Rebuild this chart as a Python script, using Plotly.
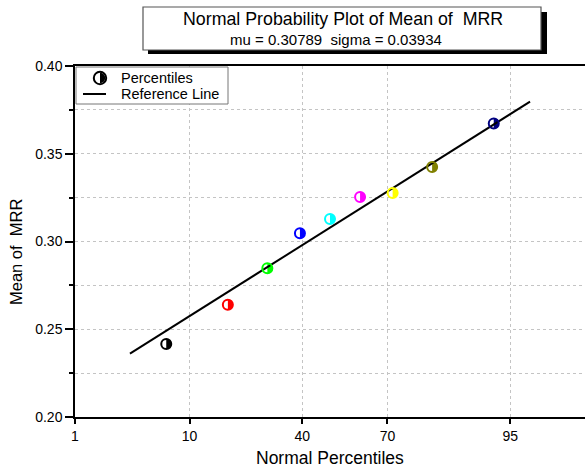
import plotly.graph_objects as go
from statistics import NormalDist

# ---- data ----
percentiles = [6.76, 17.57, 28.38, 39.19, 50.0, 60.81, 71.62, 82.43, 93.24]
mrr_means = [0.2416, 0.2640, 0.2847, 0.3047, 0.3128, 0.3254, 0.3276, 0.3425, 0.3673]
point_colors = ["#000000", "#FF0000", "#00FF00", "#0000FF", "#00FFFF",
                "#FF00FF", "#FFFF00", "#808000", "#000080"]
mu = 0.30789
sigma = 0.03934
ref_line_pct = [3.4, 96.6]
x_tick_pct = [1, 10, 40, 70, 95]
x_tick_labels = ["1", "10", "40", "70", "95"]
y_ticks = [0.20, 0.25, 0.30, 0.35, 0.40]

nd = NormalDist()
def probit(p):
    return nd.inv_cdf(p / 100.0)

xz = [probit(p) for p in percentiles]
line_z = [probit(p) for p in ref_line_pct]
line_y = [mu + sigma * z for z in line_z]

W, H = 585, 468
ML, MR, MT, MB = 75, 0, 66, 51
PW, PH = W - ML - MR, H - MT - MB

def px(xp):
    return (xp - ML) / PW

def py(yp):
    return (H - MB - yp) / PH

FONT = "Arial, Liberation Sans, sans-serif"

fig = go.Figure()

# reference line
fig.add_trace(go.Scatter(x=line_z, y=line_y, mode="lines",
                         line=dict(color="black", width=2), showlegend=False,
                         hoverinfo="skip"))
# percentile markers (ring)
fig.add_trace(go.Scatter(x=xz, y=mrr_means, mode="markers",
                         marker=dict(size=10, color="rgba(0,0,0,0)",
                                     line=dict(color=point_colors, width=2)),
                         showlegend=False))

R = 5.2
k = 0.5523 * R
half_path = (f"M0,{-R} C{k},{-R} {R},{-k} {R},0 C{R},{k} {k},{R} 0,{R} Z")

shapes = []
for x, y, c in zip(xz, mrr_means, point_colors):
    shapes.append(dict(type="circle", xref="x", yref="y", xsizemode="pixel",
                       ysizemode="pixel", xanchor=x, yanchor=y,
                       x0=-R, x1=R, y0=-R, y1=R, fillcolor="white",
                       line=dict(width=0), layer="between"))
    shapes.append(dict(type="path", xref="x", yref="y", xsizemode="pixel",
                       ysizemode="pixel", xanchor=x, yanchor=y, path=half_path,
                       fillcolor=c, line=dict(width=0), layer="between"))

# title box with shadow
shapes.append(dict(type="rect", xref="paper", yref="paper",
                   x0=px(148), x1=px(547), y0=py(54), y1=py(12),
                   fillcolor="black", line=dict(width=0), layer="above"))
shapes.append(dict(type="rect", xref="paper", yref="paper",
                   x0=px(143), x1=px(541), y0=py(50), y1=py(7),
                   fillcolor="white", line=dict(color="#555555", width=1.2),
                   layer="above"))
# legend box
shapes.append(dict(type="rect", xref="paper", yref="paper",
                   x0=px(76), x1=px(228), y0=py(104), y1=py(67),
                   fillcolor="white", line=dict(color="#777777", width=1),
                   layer="above"))
# legend marker
shapes.append(dict(type="circle", xref="paper", yref="paper", xsizemode="pixel",
                   ysizemode="pixel", xanchor=px(100), yanchor=py(78),
                   x0=-R - 1, x1=R + 1, y0=-R - 1, y1=R + 1, fillcolor="white",
                   line=dict(color="black", width=2), layer="above"))
shapes.append(dict(type="path", xref="paper", yref="paper", xsizemode="pixel",
                   ysizemode="pixel", xanchor=px(100), yanchor=py(78),
                   path=half_path, fillcolor="black", line=dict(width=0),
                   layer="above"))
shapes.append(dict(type="line", xref="paper", yref="paper",
                   x0=px(83), x1=px(106), y0=py(94), y1=py(94),
                   line=dict(color="black", width=2), layer="above"))

annotations = [
    dict(text="Normal Probability Plot of Mean of&nbsp; MRR", xref="paper", yref="paper",
         x=px(343), y=py(19), showarrow=False, xanchor="center", yanchor="middle",
         font=dict(family=FONT, size=17.8, color="black")),
    dict(text="mu = 0.30789&nbsp; sigma = 0.03934", xref="paper", yref="paper",
         x=px(336), y=py(40), showarrow=False, xanchor="center", yanchor="middle",
         font=dict(family=FONT, size=15, color="black")),
    dict(text="Percentiles", xref="paper", yref="paper", x=px(119), y=py(78),
         showarrow=False, xanchor="left", yanchor="middle",
         font=dict(family=FONT, size=14.5, color="black")),
    dict(text="Reference Line", xref="paper", yref="paper", x=px(119), y=py(94),
         showarrow=False, xanchor="left", yanchor="middle",
         font=dict(family=FONT, size=14.5, color="black")),
    dict(text="Normal Percentiles", xref="paper", yref="paper", x=px(330), y=py(458),
         showarrow=False, xanchor="center", yanchor="middle",
         font=dict(family=FONT, size=17.5, color="black")),
    dict(text="Mean of&nbsp; MRR", xref="paper", yref="paper", x=px(16), y=py(252),
         showarrow=False, xanchor="center", yanchor="middle", textangle=-90,
         font=dict(family=FONT, size=16.5, color="black")),
]

grid = dict(gridcolor="#c4c4c4", gridwidth=1, griddash="3px,3px")

fig.update_layout(
    width=W, height=H,
    margin=dict(l=ML, r=MR, t=MT, b=MB, pad=0),
    paper_bgcolor="white", plot_bgcolor="white",
    showlegend=False,
    shapes=shapes, annotations=annotations,
    font=dict(family=FONT, size=14, color="black"),
    xaxis=dict(range=[probit(1), probit(99)], tickmode="array",
               tickvals=[probit(p) for p in x_tick_pct], ticktext=x_tick_labels,
               showline=True, linecolor="black", linewidth=1.5, mirror=True,
               ticks="outside", ticklen=5, tickwidth=1.5, tickcolor="black",
               showgrid=True, zeroline=False,
               tickfont=dict(family=FONT, size=14), **grid),
    yaxis=dict(range=[0.20, 0.40], tickmode="array", tickvals=y_ticks,
               tickformat=".2f", showline=True, linecolor="black", linewidth=1.5,
               ticks="outside", ticklen=8, tickwidth=1.5, tickcolor="black",
               showgrid=True, zeroline=False,
               tickfont=dict(family=FONT, size=14),
               minor=dict(dtick=0.025, tick0=0.2, ticks="outside", ticklen=4,
                          tickcolor="black", showgrid=True, **grid),
               **grid),
)

fig.write_html("out.html")
